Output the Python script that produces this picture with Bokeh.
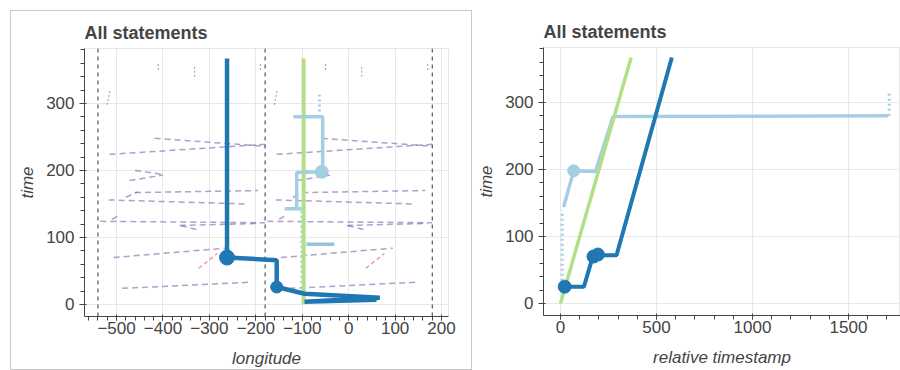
import numpy as np
from bokeh.plotting import figure
from bokeh.layouts import row
from bokeh.models import Range1d, FixedTicker
from bokeh.embed import file_html
from bokeh.resources import INLINE

# ---------------- data ----------------
# longitude view (base segments in [-180, 180]; repeated at -360)
SEG_LON0 = [-58, -155, -100, -112, -100, -120, -157, -175, -150, 32, -4, -146, -128]
SEG_T0 = [248, 224, 200, 185, 167, 160, 156, 124, 127, 112, 118, 70, 24]
SEG_LON1 = [180, 180, -40, -40, 165, -95, 140, 180, -133, -4, 170, 95, 145]
SEG_T1 = [236, 239, 194, 193, 170, 168, 150, 122, 134, 118, 121, 84, 33]
RED_LON0 = [37]
RED_T0 = [54]
RED_LON1 = [77]
RED_T1 = [76]
MARK_LON0 = [-160, -50, 28, 170]
MARK_T0 = [298, 350, 340, 350]
MARK_LON1 = [-154, -50, 28, 170]
MARK_T1 = [320, 362, 356, 362]
WRAP_LON = [-540, -180, 180]

BLUE_LON = [-262, -262, -155, -155, -95, 67, -95, 60]
BLUE_T = [367, 70, 66, 26, 16, 10, 4, 7]
BLUE_DOT_LON = [-262, -155]
BLUE_DOT_T = [70, 26]
BLUE_DOT_SIZE = [15, 12]

LIGHT_LON = [-119, -56, -56, -112, -112, -138, -101]
LIGHT_T = [280, 280, 198, 197, 143, 143, 143]
LIGHT_DOT_LON = [-58]
LIGHT_DOT_T = [198]
LIGHT_SEG_LON = [-91, -31]
LIGHT_SEG_T = [90, 90]
LIGHT_DOTTED_TOP_LON = [-63, -63]
LIGHT_DOTTED_TOP_T = [288, 313]
LIGHT_DOTTED_LOW_LON = [-101, -101]
LIGHT_DOTTED_LOW_T = [140, 30]

GREEN_LON = [-97, -97]
GREEN_T = [367, 0]

# relative timestamp view
GREEN_TS = [0, 368]
GREEN_TT = [0, 367]
BLUE_TS = [15, 122, 160, 175, 200, 292, 580]
BLUE_TT = [25, 25, 62, 70, 72, 72, 367]
BLUE_DOT_TS = [22, 172, 195]
BLUE_DOT_TT = [25, 70, 73]
LIGHT_DOTTED_TS = [9, 9]
LIGHT_DOTTED_TT = [34, 139]
LIGHT_TS = [16, 69, 182, 274, 1708]
LIGHT_TT = [144, 198, 197, 279, 280]
LIGHT_DOT_TS = [69]
LIGHT_DOT_TT = [198]
LIGHT_DOTTED2_TS = [1712, 1712]
LIGHT_DOTTED2_TT = [280, 313]

LON_TICKS = [-500, -400, -300, -200, -100, 0, 100, 200]
TS_TICKS = [0, 500, 1000, 1500]
TIME_TICKS = [0, 100, 200, 300]

BLUE = "#1f78b4"
LIGHT = "#a6cee3"
GREEN = "#b2df8a"
PURPLE = "#6a3d9a"
FONT = "Liberation Sans"


def style(p):
    p.title.text_font = FONT
    p.title.text_font_size = "18px"
    p.title.text_font_style = "bold"
    p.title.text_color = "#444444"
    p.title.standoff = 12
    for ax in (p.xaxis[0], p.yaxis[0]):
        ax.major_label_text_font = FONT
        ax.major_label_text_font_size = "17px"
        ax.major_label_text_color = "#444444"
        ax.axis_label_text_font = FONT
        ax.axis_label_text_font_size = "17px"
        ax.axis_label_text_font_style = "italic"
        ax.axis_label_text_color = "#444444"
        ax.axis_line_color = "#444444"
        ax.major_tick_line_color = "#444444"
        ax.minor_tick_line_color = "#444444"
    p.yaxis.major_tick_out = 5
    p.yaxis.major_label_standoff = 5
    p.yaxis.axis_label_standoff = 6
    p.xaxis.major_tick_out = 4
    p.xaxis.major_label_standoff = 1
    p.xaxis.axis_label_standoff = 12
    p.grid.grid_line_color = "#e8e8e8"
    p.outline_line_color = "#e5e5e5"


# ---------------- left: longitude ----------------
p1 = figure(width=462, height=360, output_backend="svg", toolbar_location=None,
            title="All statements", x_range=Range1d(-569, 215), y_range=Range1d(-18, 382),
            min_border_left=73, min_border_right=25, min_border_top=37, min_border_bottom=55)
p1.margin = (10, 0, 0, 10)
p1.xaxis.axis_label = "longitude"
p1.yaxis.axis_label = "time"
p1.xaxis.ticker = FixedTicker(ticks=LON_TICKS, minor_ticks=list(range(-560, 220, 20)))
p1.yaxis.ticker = FixedTicker(ticks=TIME_TICKS, minor_ticks=list(range(-20, 400, 20)))
style(p1)

for w in WRAP_LON:
    p1.line([w, w], [-18, 382], line_color="#333333", line_width=1, line_dash="4 4")

for shift in (0, -360):
    lon0 = np.array(SEG_LON0) + shift
    lon1 = np.array(SEG_LON1) + shift
    p1.segment(lon0, SEG_T0, lon1, SEG_T1, line_color=PURPLE, line_alpha=0.5,
               line_width=1.5, line_dash="6 4")
    p1.segment(np.array(RED_LON0) + shift, RED_T0, np.array(RED_LON1) + shift, RED_T1,
               line_color="#e31a1c", line_alpha=0.45, line_width=1.5, line_dash="4 3")
    p1.segment(np.array(MARK_LON0) + shift, MARK_T0, np.array(MARK_LON1) + shift, MARK_T1,
               line_color="#888888", line_alpha=0.7, line_width=1.2, line_dash="2 2")

p1.line(LIGHT_DOTTED_LOW_LON, LIGHT_DOTTED_LOW_T, line_color=LIGHT, line_width=3, line_dash="2 3")
p1.line(GREEN_LON, GREEN_T, line_color=GREEN, line_width=4)
p1.line(LIGHT_LON, LIGHT_T, line_color=LIGHT, line_width=3.5)
p1.line(LIGHT_SEG_LON, LIGHT_SEG_T, line_color="#93c4d8", line_width=3.5)
p1.line(LIGHT_DOTTED_TOP_LON, LIGHT_DOTTED_TOP_T, line_color=LIGHT, line_width=3, line_dash="2 3")
p1.scatter(LIGHT_DOT_LON, LIGHT_DOT_T, size=13, color=LIGHT)
p1.line(BLUE_LON, BLUE_T, line_color=BLUE, line_width=4.5)
p1.scatter(BLUE_DOT_LON, BLUE_DOT_T, size=BLUE_DOT_SIZE, color=BLUE)
p1.styles = {"border": "1px solid #c8c8c8"}

# ---------------- right: relative timestamp ----------------
p2 = figure(width=428, height=360, output_backend="svg", toolbar_location=None,
            title="All statements", x_range=Range1d(-88.5, 1771), y_range=Range1d(-18, 382),
            min_border_left=71, min_border_right=0, min_border_top=37, min_border_bottom=55)
p2.margin = (10, 0, 0, 0)
p2.xaxis.axis_label = "relative timestamp"
p2.yaxis.axis_label = "time"
p2.xaxis.ticker = FixedTicker(ticks=TS_TICKS, minor_ticks=list(range(-100, 1800, 100)))
p2.yaxis.ticker = FixedTicker(ticks=TIME_TICKS, minor_ticks=list(range(-20, 400, 20)))
style(p2)

p2.line(LIGHT_DOTTED_TS, LIGHT_DOTTED_TT, line_color=LIGHT, line_width=3, line_dash="2 3")
p2.line(LIGHT_DOTTED2_TS, LIGHT_DOTTED2_TT, line_color=LIGHT, line_width=3, line_dash="2 3")
p2.line(LIGHT_TS, LIGHT_TT, line_color=LIGHT, line_width=3.5)
p2.scatter(LIGHT_DOT_TS, LIGHT_DOT_TT, size=12, color=LIGHT)
p2.line(GREEN_TS, GREEN_TT, line_color=GREEN, line_width=3.5)
p2.line(BLUE_TS, BLUE_TT, line_color=BLUE, line_width=4)
p2.scatter(BLUE_DOT_TS, BLUE_DOT_TT, size=13, color=BLUE)

layout = row(p1, p2)
open("out.html", "w").write(file_html(layout, INLINE))
